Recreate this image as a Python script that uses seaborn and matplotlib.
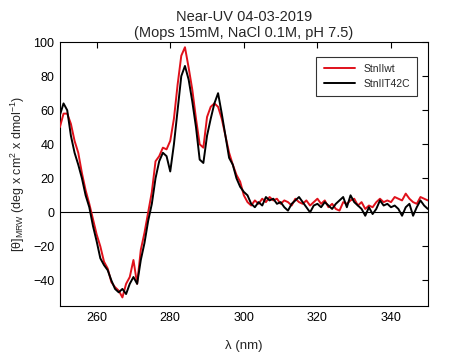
"""
Near-UV CD spectra, StnII wt vs T42C
"""
import numpy as np
import pandas as pd
import matplotlib
matplotlib.use("Agg")
import matplotlib.pyplot as plt
import seaborn as sns

# wavelength grid (nm), 1 nm steps
wavelength = list(range(250, 351))

# mean residue ellipticity
stnii_wt = [
    50, 58, 58, 52, 42, 35, 23, 13, 5, -4,
    -13, -20, -29, -33, -41, -44, -46, -50, -42, -38,
    -28, -42, -22, -12, 0, 12, 30, 33, 38, 37,
    42, 55, 75, 92, 97, 85, 72, 55, 40, 38,
    56, 62, 64, 62, 55, 45, 35, 28, 22, 18,
    10, 6, 4, 7, 5, 8, 6, 9, 7, 8,
    5, 7, 6, 4, 8, 6, 5, 7, 4, 6,
    8, 5, 7, 3, 5, 2, 1, 6, 5, 7,
    8, 4, 6, 2, 4, 3, 6, 8, 6, 7,
    6, 9, 8, 7, 11, 8, 6, 5, 9, 8,
    7,
]
stnii_t42c = [
    57, 64, 60, 45, 35, 28, 20, 10, 3, -8,
    -17, -27, -31, -34, -40, -45, -47, -45, -48, -42,
    -38, -42, -28, -18, -5, 5, 20, 30, 35, 33,
    24, 40, 60, 80, 86, 78, 65, 50, 31, 29,
    45, 55, 64, 70, 58, 45, 32, 28, 20, 15,
    12, 10, 5, 3, 6, 4, 9, 7, 8, 5,
    6, 3, 1, 5, 7, 9, 6, 3, 0, 4,
    5, 3, 6, 4, 2, 5, 7, 9, 3, 10,
    6, 4, 2, -2, 3, -1, 2, 7, 4, 5,
    3, 4, 2, -2, 3, 5, -2, 3, 7, 4,
    2,
]
series_names = ["StnIIwt", "StnIIT42C"]
series_colors = ["#e0111b", "#000000"]

df = pd.concat([
    pd.DataFrame({"wl": wavelength, "theta": stnii_wt, "sample": series_names[0]}),
    pd.DataFrame({"wl": wavelength, "theta": stnii_t42c, "sample": series_names[1]}),
])

sns.set_style("white")
plt.rcParams["font.family"] = ["Liberation Sans", "DejaVu Sans"]
plt.rcParams["mathtext.fontset"] = "custom"
plt.rcParams["mathtext.rm"] = "Liberation Sans"
plt.rcParams["mathtext.it"] = "Liberation Sans:italic"

fig = plt.figure(figsize=(4.64, 3.57), dpi=100)
ax = fig.add_axes([0.129, 0.143, 0.793, 0.739])

ax.axhline(0, color="black", lw=0.8, zorder=1)
sns.lineplot(data=df, x="wl", y="theta", hue="sample",
             palette=dict(zip(series_names, series_colors)),
             lw=1.4, ax=ax, zorder=3)

ax.set_xlim(250, 350)
ax.set_ylim(-55, 100)
ax.set_xticks(range(260, 341, 20))
ax.set_yticks(range(-40, 101, 20))
ax.tick_params(direction="in", length=4, width=0.8, top=True, right=True,
               labelsize=9, colors="black", pad=4)
for s in ax.spines.values():
    s.set_color("black")
    s.set_linewidth(0.8)

ax.set_title("Near-UV 04-03-2019\n(Mops 15mM, NaCl 0.1M, pH 7.5)",
             fontsize=10.5, pad=4, linespacing=1.1)
ax.set_xlabel("λ (nm)", fontsize=9.5, labelpad=12)
ax.set_ylabel(r"[θ]$_{\mathrm{MRW}}$ (deg x cm$^2$ x dmol$^{-1}$)",
              fontsize=9, labelpad=4)

leg = ax.legend(loc="upper right", fontsize=7.5, frameon=True, fancybox=False,
                edgecolor="black", handlelength=3.0, borderpad=0.7,
                bbox_to_anchor=(0.985, 0.965))
leg.get_frame().set_linewidth(0.8)
leg.set_title(None)

fig.savefig("out.png", dpi=100)
